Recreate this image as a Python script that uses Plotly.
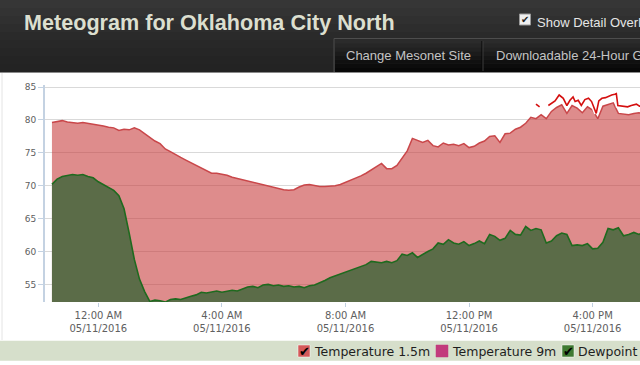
import pandas as pd
import plotly.graph_objects as go

# ---------------- data ----------------
grid_start = "2016-05-10 22:30"   # 10-minute observations
temp_15m = [
    79.6, 79.7, 79.9, 79.7, 79.6, 79.5, 79.6, 79.5, 79.4, 79.2,
    79.1, 78.9, 78.8, 78.4, 78.6, 78.5, 78.8, 78.5, 77.9, 77.3,
    76.8, 76.4, 75.6, 75.2, 74.7, 74.3, 73.9, 73.5, 73.0, 72.6,
    72.2, 71.9, 71.9, 71.8, 71.6, 71.3, 71.1, 70.9, 70.7, 70.5,
    70.3, 70.2, 70.0, 69.8, 69.6, 69.4, 69.3, 69.4, 69.8, 70.1,
    70.2, 70.0, 69.9, 69.9, 69.9, 70.0, 70.2, 70.5, 70.8, 71.1,
    71.5, 71.9, 72.4, 72.8, 73.4, 72.6, 72.6, 73.1, 74.2, 75.3,
    77.2, 76.9, 76.6, 76.9, 76.1, 75.9, 76.5, 76.2, 76.3, 76.1,
    76.4, 75.8, 76.0, 76.5, 76.8, 77.5, 77.6, 76.6, 77.9, 78.0,
    78.6, 78.9, 79.5, 80.4, 80.2, 80.8, 80.2, 81.3, 81.9, 82.3,
    81.0, 82.2, 81.8, 81.1, 82.0, 81.5, 80.2, 82.1, 82.4, 82.6,
    81.0, 80.9, 80.8, 81.0, 81.1, 80.9,
]
dewpoint = [
    70.2, 71.0, 71.4, 71.6, 71.7, 71.6, 71.7, 71.4, 71.2, 70.6,
    70.2, 69.7, 69.3, 68.5, 66.5, 62.8, 58.8, 55.8, 53.9, 52.4,
    52.6, 52.5, 52.3, 52.7, 52.8, 52.7, 53.0, 53.2, 53.4, 53.8,
    53.7, 53.9, 54.0, 53.8, 54.0, 54.1, 54.0, 54.3, 54.6, 54.7,
    54.5, 54.9, 55.0, 54.8, 54.9, 54.7, 54.8, 54.6, 54.7, 54.5,
    54.8, 54.9, 55.2, 55.6, 56.0, 56.3, 56.5, 56.8, 57.1, 57.4,
    57.7, 58.0, 58.5, 58.4, 58.3, 58.5, 58.3, 58.6, 59.6, 59.4,
    59.8, 59.1, 59.6, 60.0, 60.4, 61.3, 61.1, 61.8, 61.3, 61.1,
    61.5, 60.9, 61.2, 61.6, 61.2, 62.6, 62.3, 61.7, 62.0, 63.2,
    62.6, 62.5, 63.8, 63.2, 63.5, 63.3, 61.3, 61.6, 62.4, 62.8,
    62.6, 60.9, 61.0, 60.9, 61.2, 60.4, 60.5, 61.4, 63.5, 63.3,
    63.6, 62.4, 62.6, 62.9, 62.6, 63.0,
]
detail_times = [
    "2016-05-11 14:10", "2016-05-11 14:17", "2016-05-11 14:24", "2016-05-11 14:34",
    "2016-05-11 14:40", "2016-05-11 14:47", "2016-05-11 14:55", "2016-05-11 15:03",
    "2016-05-11 15:10", "2016-05-11 15:16", "2016-05-11 15:22", "2016-05-11 15:26",
    "2016-05-11 15:32", "2016-05-11 15:38", "2016-05-11 15:45", "2016-05-11 15:52",
    "2016-05-11 15:58", "2016-05-11 16:07", "2016-05-11 16:12", "2016-05-11 16:18",
    "2016-05-11 16:25", "2016-05-11 16:30", "2016-05-11 16:37", "2016-05-11 16:43",
    "2016-05-11 16:46", "2016-05-11 16:49", "2016-05-11 16:59", "2016-05-11 17:08",
    "2016-05-11 17:15", "2016-05-11 17:25", "2016-05-11 17:31", "2016-05-11 17:40",
]
detail_vals = [
    82.4, 82.0, None, 82.2,
    82.5, 82.9, 83.8, 83.3,
    82.2, 83.0, 83.5, 82.8,
    83.0, 82.2, 83.1, 83.3,
    82.8, 81.0, 82.9, 83.3,
    83.4, 83.6, 83.8, 83.9,
    84.0, 82.2, 82.1, 82.0,
    82.2, 82.4, 82.1, 82.2,
]
tick_times = ["2016-05-11 00:00", "2016-05-11 04:00", "2016-05-11 08:00",
              "2016-05-11 12:00", "2016-05-11 16:00"]
tick_time_text = ["12:00 AM", "4:00 AM", "8:00 AM", "12:00 PM", "4:00 PM"]
tick_date_text = ["05/11/2016", "05/11/2016", "05/11/2016", "05/11/2016", "05/11/2016"]
y_ticks = [55, 60, 65, 70, 75, 80, 85]
legend_names = ["Temperature 1.5m", "Temperature 9m", "Dewpoint"]
legend_colors = ["#d45a5a", "#c23b7c", "#3f7a32"]
legend_checked = [True, False, True]

times = pd.date_range(grid_start, periods=len(temp_15m), freq="10min")

# ---------------- layout helpers ----------------
W, H = 640, 365
ML, MR, MT, MB = 45, 0, 85, 63
PW, PH = W - ML - MR, H - MT - MB


def fx(p):
    return (p - ML) / PW


def fy(p):
    return (H - MB - p) / PH


fig = go.Figure()
fig.add_trace(go.Scatter(
    x=times, y=temp_15m, name=legend_names[0], mode="lines",
    line=dict(color="#c9474a", width=1.5), fill="tozeroy",
    fillcolor="rgba(198,56,56,0.58)", hoverinfo="skip"))
fig.add_trace(go.Scatter(
    x=times, y=dewpoint, name=legend_names[2], mode="lines",
    line=dict(color="#1f6a1f", width=1.6), fill="tozeroy",
    fillcolor="#5b6c48", hoverinfo="skip"))
fig.add_trace(go.Scatter(
    x=detail_times, y=detail_vals, mode="lines", showlegend=False,
    line=dict(color="white", width=4.5), connectgaps=False, hoverinfo="skip"))
fig.add_trace(go.Scatter(
    x=detail_times, y=detail_vals, mode="lines", showlegend=False,
    line=dict(color="#d40f0f", width=1.6), connectgaps=False, hoverinfo="skip"))
fig.add_trace(go.Scatter(
    x=[tick_times[0]], y=[None], xaxis="x2", showlegend=False, hoverinfo="skip"))

xrange = ["2016-05-10 22:16:30", "2016-05-11 17:32:00"]
tickfont = dict(family="DejaVu Sans", size=10, color="#606060")

shapes = []
annotations = []


def rect(x0, y0, x1, y1, fill, line=None, lw=0, layer="above"):
    shapes.append(dict(type="rect", xref="paper", yref="paper",
                       x0=fx(x0), x1=fx(x1), y0=fy(y0), y1=fy(y1),
                       fillcolor=fill, line=dict(color=line or fill, width=lw),
                       layer=layer))


def text(x, y, s, size, color, family="Liberation Sans", anchor="left", bold=False):
    if bold:
        s = "<b>" + s + "</b>"
    annotations.append(dict(xref="paper", yref="paper", x=fx(x), y=fy(y), text=s,
                            showarrow=False, xanchor=anchor, yanchor="middle",
                            font=dict(family=family, size=size, color=color)))


# header band (stepped gradient)
header_steps = ["#363636", "#333333", "#303030", "#2d2d2d", "#2a2a2a",
                "#282828", "#262626", "#242424", "#232323"]
for i, c in enumerate(header_steps):
    rect(0, i * 8, 640, i * 8 + 8, c)
# tab box
rect(334, 38.5, 641, 72, "#2a2a2a", "#4d4d4d", 1)
tab_steps = ["#2b2b2b", "#262626", "#212121", "#1b1b1b", "#151515", "#101010", "#0c0c0c", "#080808"]
for i, c in enumerate(tab_steps):
    rect(335, 39.5 + i * 4.06, 641, 39.5 + (i + 1) * 4.06, c)
shapes.append(dict(type="line", xref="paper", yref="paper", x0=fx(482), x1=fx(482),
                   y0=fy(41), y1=fy(71), line=dict(color="#050505", width=1)))
shapes.append(dict(type="line", xref="paper", yref="paper", x0=fx(483), x1=fx(483),
                   y0=fy(41), y1=fy(71), line=dict(color="#3c3c3c", width=1)))
shapes.append(dict(type="line", xref="paper", yref="paper", x0=fx(0), x1=fx(640),
                   y0=fy(72.5), y1=fy(72.5), line=dict(color="#8a8a8a", width=1)))
# page border at left
shapes.append(dict(type="line", xref="paper", yref="paper", x0=fx(2), x1=fx(2),
                   y0=fy(73), y1=fy(340), line=dict(color="#e4e4e4", width=1)))

text(22, 22.3, "Meteogram for Oklahoma City North", 21.6, "#dcdfcf", bold=True)
rect(519.5, 14, 530.5, 25, "#efefef", "#9a9a9a", 1)
text(525, 19.5, "✔", 10, "#222222", family="DejaVu Sans", anchor="center")
text(535, 22.2, "Show Detail Overlay", 13, "#e6e6e6")
text(344, 55.5, "Change Mesonet Site", 13, "#c4c4c4")
text(494, 55.5, "Downloadable 24-Hour Graph", 13, "#c4c4c4")

# legend bar
rect(0, 340.7, 640, 360.7, "#d6dfcb")
legend_x = [298, 436, 562]
for name, col, chk, lx in zip(legend_names, legend_colors, legend_checked, legend_x):
    rect(lx, 345, lx + 12, 357, col, "#ffffff" if chk else col, 0.5)
    if chk:
        text(lx + 6.5, 351, "✔", 13, "#000000", family="DejaVu Sans", anchor="center")
    text(lx + 14, 351.6, name, 12.5, "#1e1e1e", family="DejaVu Sans")

fig.update_layout(
    width=W, height=H,
    margin=dict(l=ML, r=MR, t=MT, b=MB, pad=0),
    paper_bgcolor="white", plot_bgcolor="white",
    showlegend=False,
    xaxis=dict(range=xrange, tickvals=tick_times, ticktext=tick_time_text,
               showgrid=False, zeroline=False, showline=False,
               ticks="outside", ticklen=4, tickcolor="#c0d0e0", tickwidth=1,
               tickfont=tickfont),
    xaxis2=dict(range=xrange, overlaying="x", anchor="y", side="bottom",
                tickvals=tick_times, ticktext=tick_date_text,
                showgrid=False, zeroline=False, showline=False, ticks="",
                tickfont=tickfont, ticklabelstandoff=19),
    yaxis=dict(range=[52.32, 85.32], tickvals=y_ticks, showgrid=True,
               gridcolor="#d9d9d9", gridwidth=1, zeroline=False,
               showline=True, linecolor="#c4d2e2", linewidth=2,
               ticks="outside", ticklen=5, tickcolor="#c4d2e2",
               tickfont=dict(family="DejaVu Sans", size=9, color="#606060")),
    shapes=shapes, annotations=annotations,
)

fig.write_html(
    "out.html",
    config={"displayModeBar": False},
    post_script="document.body.style.margin='0';document.body.style.overflow='hidden';",
)
